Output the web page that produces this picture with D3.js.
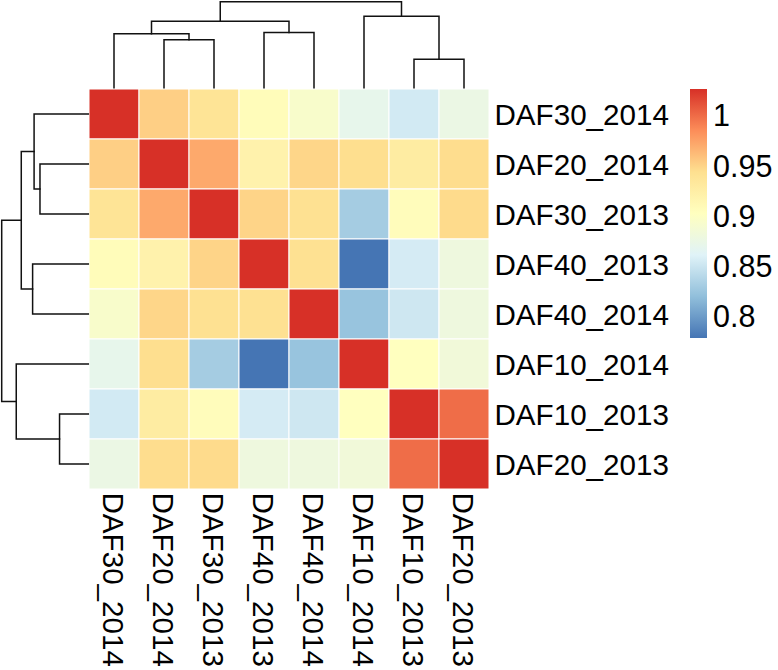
<!DOCTYPE html>
<html>
<head>
<meta charset="utf-8">
<script src="https://cdn.jsdelivr.net/npm/d3@7"></script>
<style>
  html, body { margin: 0; padding: 0; background: #ffffff; }
  svg text { font-family: "Liberation Sans", Arial, Helvetica, sans-serif; fill: #000; }
</style>
</head>
<body>
<svg id="chart" width="778" height="670"></svg>
<script>
// ---------------- data ----------------
const labels = ["DAF30_2014", "DAF20_2014", "DAF30_2013", "DAF40_2013",
                "DAF40_2014", "DAF10_2014", "DAF10_2013", "DAF20_2013"];

const rowDAF30_2014 = [1.000, 0.934, 0.922, 0.894, 0.882, 0.862, 0.847, 0.866];
const rowDAF20_2014 = [0.934, 1.000, 0.951, 0.905, 0.931, 0.927, 0.913, 0.928];
const rowDAF30_2013 = [0.922, 0.951, 1.000, 0.932, 0.925, 0.826, 0.893, 0.929];
const rowDAF40_2013 = [0.894, 0.905, 0.932, 1.000, 0.925, 0.780, 0.848, 0.870];
const rowDAF40_2014 = [0.882, 0.931, 0.925, 0.925, 1.000, 0.820, 0.845, 0.870];
const rowDAF10_2014 = [0.862, 0.927, 0.826, 0.780, 0.820, 1.000, 0.890, 0.873];
const rowDAF10_2013 = [0.847, 0.913, 0.893, 0.848, 0.845, 0.890, 1.000, 0.976];
const rowDAF20_2013 = [0.866, 0.928, 0.929, 0.870, 0.870, 0.873, 0.976, 1.000];
const matrix = [rowDAF30_2014, rowDAF20_2014, rowDAF30_2013, rowDAF40_2013,
                rowDAF40_2014, rowDAF10_2014, rowDAF10_2013, rowDAF20_2013];

// dendrogram merges (relative heights)
const tree = {h: 1.000, children: [
  {h: 0.774, children: [
    {h: 0.626, children: [
      {name: "DAF30_2014"},
      {h: 0.558, children: [{name: "DAF20_2014"}, {name: "DAF30_2013"}]}
    ]},
    {h: 0.643, children: [{name: "DAF40_2013"}, {name: "DAF40_2014"}]}
  ]},
  {h: 0.832, children: [
    {name: "DAF10_2014"},
    {h: 0.332, children: [{name: "DAF10_2013"}, {name: "DAF20_2013"}]}
  ]}
]};

const legendTicks = [0.8, 0.85, 0.9, 0.95, 1];
const legendTickLabels = ["0.8", "0.85", "0.9", "0.95", "1"];
const palette = ["#4575B4", "#91BFDB", "#E0F3F8", "#FFFFBF", "#FEE090", "#FC8D59", "#D73027"];

// ---------------- layout ----------------
const svg = d3.select("#chart");
const hmX0 = 89, hmX1 = 489, hmY0 = 89, hmY1 = 489;
const fontSize = 29.6;
const legendFontSize = 30.5;

const x = d3.scaleBand().domain(labels).range([hmX0, hmX1]);
const y = d3.scaleBand().domain(labels).range([hmY0, hmY1]);

const allVals = matrix.flat();
const vMin = d3.min(allVals), vMax = d3.max(allVals);
const color = d3.scaleLinear()
  .domain(d3.range(palette.length).map(i => vMin + i * (vMax - vMin) / (palette.length - 1)))
  .range(palette)
  .interpolate(d3.interpolateRgb);

// ---------------- heatmap ----------------
const cells = [];
matrix.forEach((row, i) => row.forEach((v, j) => cells.push({r: labels[i], c: labels[j], v})));
svg.append("g").selectAll("rect").data(cells).join("rect")
  .attr("x", d => x(d.c))
  .attr("y", d => y(d.r))
  .attr("width", x.bandwidth())
  .attr("height", y.bandwidth())
  .attr("fill", d => color(d.v))
  .attr("stroke", "#ffffff")
  .attr("stroke-width", 1);

// ---------------- dendrograms ----------------
const hScaleCol = d3.scaleLinear().domain([0, 1]).range([87.7, 1.7]);
const hScaleRow = d3.scaleLinear().domain([0, 1]).range([88.3, 1.7]);

function layoutTree(scaleLeaf) {
  const root = d3.hierarchy(tree);
  root.eachAfter(n => {
    if (!n.children) { n.pos = scaleLeaf(n.data.name) + scaleLeaf.bandwidth() / 2; n.hh = 0; }
    else { n.pos = d3.mean(n.children, c => c.pos); n.hh = n.data.h; }
  });
  return root;
}

function drawDendro(root, hScale, vertical) {
  const g = svg.append("g")
    .attr("fill", "none").attr("stroke", "#111111").attr("stroke-width", 1.5)
    .attr("stroke-linecap", "square");
  root.each(n => {
    if (!n.children) return;
    const p = d3.path();
    const hp = hScale(n.hh);
    n.children.forEach(c => {
      const hc = hScale(c.hh);
      if (vertical) { p.moveTo(c.pos, hc); p.lineTo(c.pos, hp); }
      else { p.moveTo(hc, c.pos); p.lineTo(hp, c.pos); }
    });
    const a = n.children[0].pos, b = n.children[n.children.length - 1].pos;
    if (vertical) { p.moveTo(a, hp); p.lineTo(b, hp); }
    else { p.moveTo(hp, a); p.lineTo(hp, b); }
    g.append("path").attr("d", p.toString());
  });
}

drawDendro(layoutTree(x), hScaleCol, true);
drawDendro(layoutTree(y), hScaleRow, false);

// ---------------- labels ----------------
svg.append("g").selectAll("text").data(labels).join("text")
  .attr("x", 494.5)
  .attr("y", d => y(d) + y.bandwidth() / 2)
  .attr("dy", "0.36em")
  .attr("font-size", fontSize)
  .text(d => d);

svg.append("g").selectAll("text").data(labels).join("text")
  .attr("transform", d => `translate(${x(d) + x.bandwidth() / 2},${492.5}) rotate(90)`)
  .attr("dy", "0.36em")
  .attr("font-size", fontSize)
  .text(d => d);

// ---------------- legend ----------------
const legX = 690, legW = 17, legY0 = 89, legY1 = 338;
const defs = svg.append("defs");
const grad = defs.append("linearGradient").attr("id", "legGrad")
  .attr("x1", 0).attr("y1", 1).attr("x2", 0).attr("y2", 0);
grad.selectAll("stop").data(palette).join("stop")
  .attr("offset", (d, i) => i / (palette.length - 1))
  .attr("stop-color", d => d);
svg.append("rect")
  .attr("x", legX).attr("y", legY0)
  .attr("width", legW).attr("height", legY1 - legY0)
  .attr("fill", "url(#legGrad)");

const legScale = d3.scaleLinear().domain([0.8, 1]).range([316, 115.5]);
svg.append("g").selectAll("text").data(legendTicks).join("text")
  .attr("x", 713)
  .attr("y", d => legScale(d))
  .attr("dy", "0.36em")
  .attr("font-size", legendFontSize)
  .text((d, i) => legendTickLabels[i]);
</script>
</body>
</html>
